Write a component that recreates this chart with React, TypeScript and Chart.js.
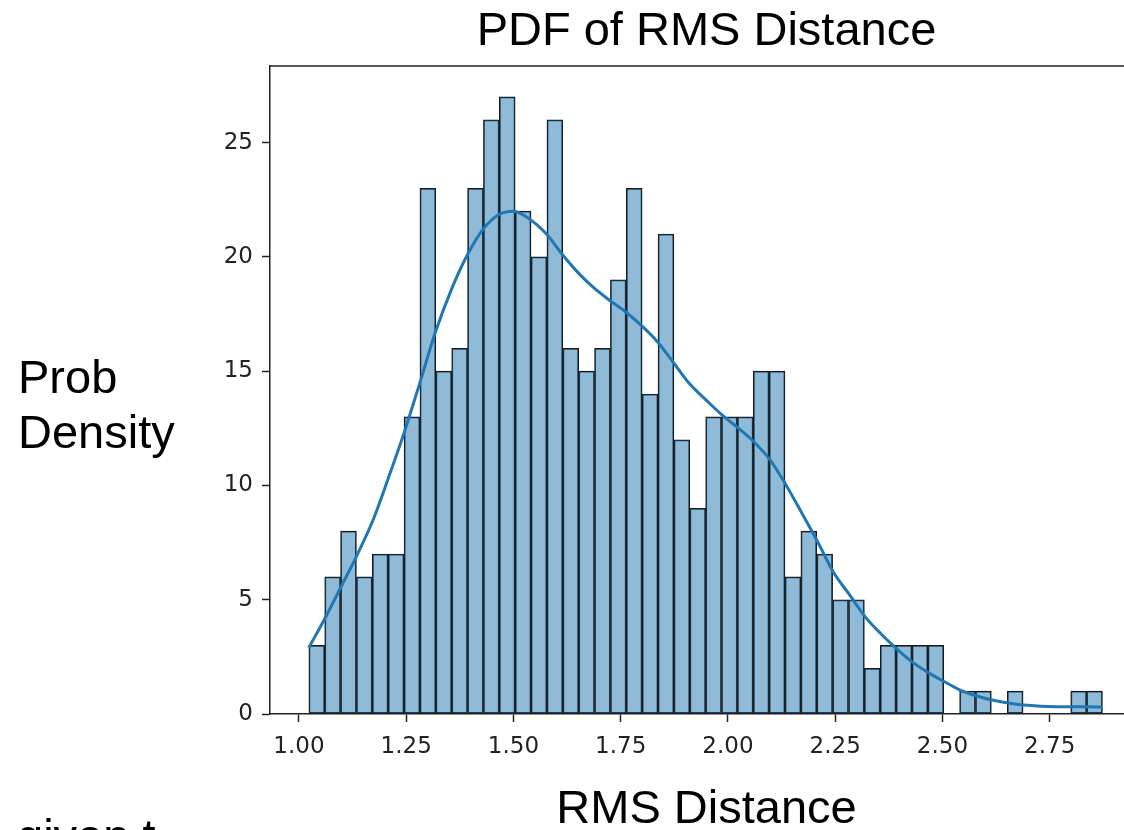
import React, { useEffect, useRef } from "react";
import { Chart, registerables } from "chart.js";

Chart.register(...registerables);

// Histogram: 50 bins starting at binStart with width binWidth
const binStart = 1.023;
const binWidth = 0.037;
const counts = [
  3, 6, 8, 6, 7, 7, 13, 23, 15, 16,
  23, 26, 27, 22, 20, 26, 16, 15, 16, 19,
  23, 14, 21, 12, 9, 13, 13, 13, 15, 15,
  6, 8, 7, 5, 5, 2, 3, 3, 3, 3,
  0, 1, 1, 0, 1, 0, 0, 0, 1, 1,
];

// KDE curve (scaled to counts)
const kdeX = [
  1.023, 1.061, 1.099, 1.134, 1.173, 1.208, 1.245, 1.282, 1.318, 1.356,
  1.393, 1.429, 1.466, 1.499, 1.526, 1.577, 1.614, 1.651, 1.687, 1.724,
  1.761, 1.798, 1.835, 1.872, 1.908, 1.951, 1.988, 2.025, 2.061, 2.099,
  2.136, 2.172, 2.21, 2.246, 2.284, 2.32, 2.357, 2.394, 2.43, 2.468,
  2.504, 2.54, 2.578, 2.616, 2.653, 2.69, 2.728, 2.764, 2.801, 2.838, 2.873,
];
const kdeY = [
  2.9, 4.2, 5.6, 6.9, 8.5, 10.3, 12.3, 14.5, 16.7, 18.6,
  20.1, 21.2, 21.85, 22.0, 21.8, 21.0, 20.1, 19.3, 18.65, 18.1,
  17.6, 17.0, 16.3, 15.4, 14.5, 13.7, 13.05, 12.5, 11.9, 11.1,
  10.0, 8.8, 7.5, 6.2, 5.2, 4.25, 3.5, 2.84, 2.27, 1.8,
  1.42, 1.06, 0.8, 0.61, 0.48, 0.39, 0.34, 0.32, 0.32, 0.32, 0.3,
];

const xTicks = [1.0, 1.25, 1.5, 1.75, 2.0, 2.25, 2.5, 2.75];
const yTicks = [0, 5, 10, 15, 20, 25];

const title = "PDF of RMS Distance";
const xTitle = "RMS Distance";
const yTitleLines = ["Prob", "Density"];
const fragment = "given t";

const spinePlugin = {
  id: "spines",
  afterDraw(chart: any) {
    const { ctx, chartArea } = chart;
    ctx.save();
    ctx.strokeStyle = "#222";
    ctx.lineWidth = 1.5;
    ctx.beginPath();
    ctx.moveTo(chartArea.left, chartArea.top);
    ctx.lineTo(chartArea.right, chartArea.top);
    ctx.lineTo(chartArea.right, chartArea.bottom);
    ctx.stroke();
    ctx.restore();
  },
};

export default function App() {
  const ref = useRef<HTMLCanvasElement | null>(null);

  useEffect(() => {
    if (!ref.current) return;
    const barData = counts.map((c, i) => ({ x: binStart + binWidth * (i + 0.5), y: c }));
    const lineData = kdeX.map((x, i) => ({ x, y: kdeY[i] }));
    const tickFont = { family: "DejaVu Sans", size: 23 };
    const chart = new Chart(ref.current, {
      type: "bar",
      data: {
        datasets: [
          {
            type: "line",
            data: lineData,
            borderColor: "#1f77b4",
            borderWidth: 3,
            pointRadius: 0,
            cubicInterpolationMode: "monotone",
            order: 0,
          } as any,
          {
            type: "bar",
            data: barData,
            backgroundColor: "rgba(31,119,180,0.5)",
            borderColor: "#1a1a1a",
            borderWidth: 1.1,
            borderSkipped: false,
            barPercentage: 1,
            categoryPercentage: 1,
            order: 1,
          } as any,
        ],
      },
      options: {
        animation: false,
        responsive: false,
        devicePixelRatio: 1,
        layout: { padding: { top: 66, right: 7, left: 0, bottom: 0 } },
        plugins: { legend: { display: false }, tooltip: { enabled: false }, title: { display: false } },
        scales: {
          x: {
            type: "linear",
            offset: false,
            min: 0.9325,
            max: 2.9675,
            afterBuildTicks: (s: any) => {
              s.ticks = xTicks.map((v) => ({ value: v }));
            },
            afterFit: (s: any) => {
              s.height = 116;
            },
            ticks: {
              font: tickFont,
              color: "#222",
              padding: 11,
              maxRotation: 0,
              autoSkip: false,
              callback: (v: any) => Number(v).toFixed(2),
            },
            grid: { display: true, offset: false, drawOnChartArea: false, tickLength: 8, color: "#222", tickWidth: 1.5 },
            border: { display: true, color: "#222", width: 1.5 },
          },
          y: {
            type: "linear",
            min: 0,
            max: 28.35,
            afterBuildTicks: (s: any) => {
              s.ticks = yTicks.map((v) => ({ value: v }));
            },
            afterFit: (s: any) => {
              s.width = 270;
            },
            ticks: { font: tickFont, color: "#222", padding: 9 },
            grid: { display: true, drawOnChartArea: false, tickLength: 8, color: "#222", tickWidth: 1.5 },
            border: { display: true, color: "#222", width: 1.5 },
          },
        },
      },
      plugins: [spinePlugin],
    });
    return () => chart.destroy();
  }, []);

  const textFont = "'Liberation Sans', Arial, sans-serif";
  const base: React.CSSProperties = {
    position: "absolute",
    fontFamily: textFont,
    fontSize: 47,
    lineHeight: "47px",
    color: "#000",
    whiteSpace: "nowrap",
  };

  return (
    <div
      style={{
        position: "fixed",
        left: 0,
        top: 0,
        width: 1124,
        height: 830,
        overflow: "hidden",
        background: "#fff",
      }}
    >
      <canvas ref={ref} width={1150} height={830} style={{ position: "absolute", left: 0, top: 0 }} />
      <div style={{ ...base, left: 0, width: 1413, top: 5, textAlign: "center" }}>{title}</div>
      <div style={{ ...base, left: 0, width: 1413, top: 783, textAlign: "center" }}>{xTitle}</div>
      <div style={{ ...base, left: 18, top: 353 }}>{yTitleLines[0]}</div>
      <div style={{ ...base, left: 18, top: 408 }}>{yTitleLines[1]}</div>
      <div style={{ ...base, left: 17, top: 812 }}>{fragment}</div>
    </div>
  );
}
